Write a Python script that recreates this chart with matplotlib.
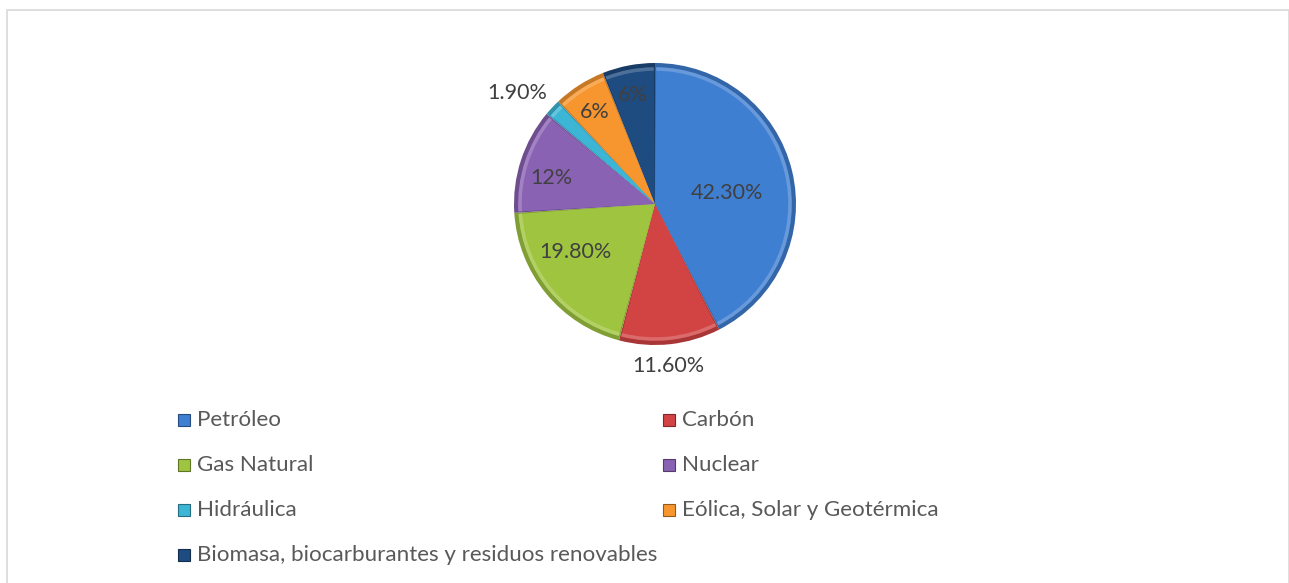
import numpy as np
import matplotlib
matplotlib.use("Agg")
import matplotlib.pyplot as plt
from matplotlib.patches import Rectangle, Wedge
from matplotlib.colors import to_rgb

categories = ["Petróleo", "Carbón", "Gas Natural", "Nuclear", "Hidráulica",
              "Eólica, Solar y Geotérmica",
              "Biomasa, biocarburantes y residuos renovables"]
values = [42.3, 11.6, 19.8, 12, 1.9, 6, 6]
value_labels = ["42.30%", "11.60%", "19.80%", "12%", "1.90%", "6%", "6%"]
colors = ["#3F7FD2", "#D24344", "#9FC540", "#8A62B3", "#3DB6D6", "#F7962E", "#1E4B80"]
# label placement: fraction of radius and angular nudge (degrees) per slice
label_radius = [0.515, 1.15, 0.66, 0.755, 1.256, 0.78, 0.79]
label_nudge = [-5, -1.5, -8.6, 4, 4.5, 0.5, 0.5]

W, H = 1289, 583
fig = plt.figure(figsize=(W / 100, H / 100), dpi=100)
fig.patch.set_facecolor("white")

# chart frame
fig.add_artist(Rectangle((7 / W, -0.1), (W - 7.5) / W, (H - 10) / H + 0.1,
                         transform=fig.transFigure, fill=False,
                         edgecolor="#D9D9D9", linewidth=1.2))

cx, cy, r = 655, H - 204, 141
ax = fig.add_axes([(cx - r) / W, (cy - r) / H, 2 * r / W, 2 * r / H])
ax.axis("off")

font = "Lato"


def shade(c, f):
    rgb = np.array(to_rgb(c))
    if f < 1:
        return tuple(rgb * f)
    return tuple(rgb + (1 - rgb) * (f - 1))


wedges, _ = ax.pie(values, colors=colors, startangle=90, counterclock=False,
                   radius=1.0, wedgeprops=dict(edgecolor="none"))
ax.set_xlim(-1, 1)
ax.set_ylim(-1, 1)
ax.set_aspect("equal")

# bevel: darker rim and lighter inner face for each slice
for w, c in zip(wedges, colors):
    w.set_facecolor(shade(c, 0.8))
    inner = Wedge((0, 0), 0.97, w.theta1 + 0.5, w.theta2 - 0.5,
                  facecolor=c, edgecolor="none")
    ax.add_patch(inner)
    hl = Wedge((0, 0), 0.97, w.theta1 + 0.5, w.theta2 - 0.5, width=0.025,
               facecolor=shade(c, 1.3), edgecolor="none", alpha=0.7)
    ax.add_patch(hl)

# value labels
for w, lab, rr, nd in zip(wedges, value_labels, label_radius, label_nudge):
    ang = np.deg2rad((w.theta1 + w.theta2) / 2 + nd)
    ax.text(rr * np.cos(ang), rr * np.sin(ang), lab, ha="center", va="center",
            fontsize=15.5, color="#404040", family=font, clip_on=False)

# legend, two columns filled row by row
for i, (name, c) in enumerate(zip(categories, colors)):
    row, col = divmod(i, 2)
    x = [178, 663][col]
    y = 420 + 45 * row
    s = 12
    fig.add_artist(Rectangle((x / W, (H - y - s / 2) / H), s / W, s / H,
                             transform=fig.transFigure, facecolor=c,
                             edgecolor=shade(c, 0.6), linewidth=0.8))
    fig.text((x + 19) / W, (H - y) / H, name, ha="left", va="center",
             fontsize=16.1, color="#595959", family=font)

fig.savefig("out.png", dpi=100, facecolor="white")
